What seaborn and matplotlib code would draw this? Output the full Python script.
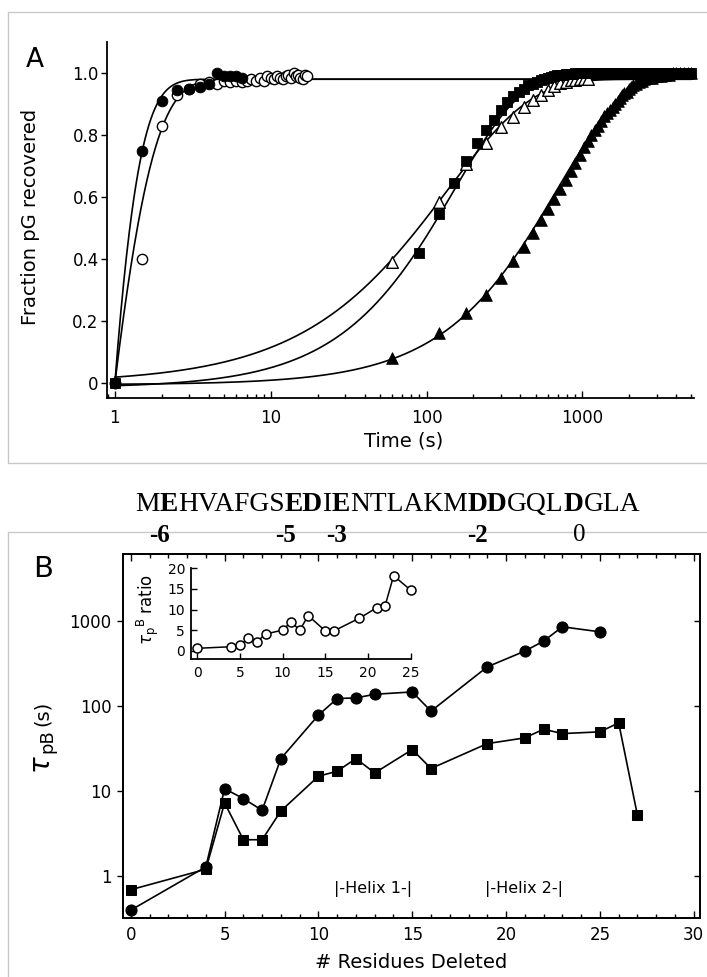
import numpy as np
import pandas as pd
import matplotlib
matplotlib.use("Agg")
import matplotlib.pyplot as plt
import seaborn as sns
from matplotlib.lines import Line2D
from matplotlib.ticker import (FixedLocator, FixedFormatter, NullLocator,
                               MultipleLocator, LogLocator, NullFormatter)

# ------------------------------------------------------------------ data
# Panel A : recovery kinetics (time in s, fraction pG recovered)
circ_fill_t = [1, 1.5, 2, 2.5, 3, 3.5, 4, 4.5, 5, 5.5, 6, 6.5]
circ_fill_y = [0, 0.75, 0.91, 0.945, 0.95, 0.955, 0.965, 1.0, 0.99, 0.99, 0.99, 0.985]

circ_open_t = [1, 1.5, 2, 2.5, 3, 3.5, 4, 4.5, 5, 5.5, 6, 6.5, 7, 7.5, 8, 8.5, 9,
               9.5, 10, 10.5, 11, 11.5, 12, 12.5, 13, 13.5, 14, 14.5, 15, 15.5,
               16, 16.5, 17]
circ_open_y = [0, 0.40, 0.83, 0.93, 0.95, 0.965, 0.97, 0.965, 0.975, 0.97, 0.975,
               0.97, 0.975, 0.98, 0.975, 0.985, 0.975, 0.99, 0.985, 0.98, 0.99,
               0.985, 0.98, 0.99, 0.995, 0.985, 1.0, 0.99, 0.995, 0.985, 0.98,
               0.995, 0.99]

sq_t = [1, 90, 120, 150, 180, 210, 240, 270, 300, 330, 360, 390, 420, 450, 480,
        510, 540, 570, 600, 630, 660, 690, 720, 750, 780, 810, 840, 870, 900, 930,
        960, 990, 1050, 1110, 1170, 1230, 1300, 1400, 1500, 1600, 1700, 1800,
        1950, 2100, 2250, 2400, 2600, 2800, 3000, 3200, 3400, 3600, 3800, 4000,
        4200, 4400, 4600, 4800, 5000]
sq_y = [0, 0.42, 0.545, 0.645, 0.715, 0.775, 0.815, 0.85, 0.88, 0.905, 0.925,
        0.94, 0.95, 0.96, 0.965, 0.972, 0.977, 0.982, 0.985, 0.988, 0.99, 0.992,
        0.994, 0.995, 0.996, 0.997, 0.998, 0.998, 0.999, 1.0, 1.0, 1.0, 1.0, 1.0,
        1.0, 1.0, 1.0, 1.0, 1.0, 1.0, 1.0, 1.0, 1.0, 1.0, 1.0, 1.0, 1.0, 1.0,
        1.0, 1.0, 1.0, 1.0, 1.0, 1.0, 1.0, 1.0, 1.0, 1.0, 1.0]

tri_open_t = [60, 120, 180, 240, 300, 360, 420, 480, 540, 600, 660, 720, 780,
              840, 900, 960, 1020, 1080]
tri_open_y = [0.39, 0.585, 0.705, 0.773, 0.827, 0.859, 0.891, 0.913, 0.929,
              0.945, 0.958, 0.967, 0.972, 0.976, 0.978, 0.98, 0.98, 0.98]

tri_fill_t = [60, 120, 180, 240, 300, 360, 420, 480, 540, 600, 660, 720, 780,
              840, 900, 960, 1020, 1080, 1140, 1200, 1260, 1320, 1380, 1440,
              1500, 1560, 1620, 1680, 1740, 1800, 1860, 1920, 1980, 2040, 2100,
              2200, 2300, 2400, 2500, 2650, 2800, 3000, 3200, 3400, 3600, 3800,
              4000, 4250, 4500, 4750, 5000]
tri_fill_y = [0.08, 0.16, 0.225, 0.285, 0.34, 0.395, 0.44, 0.485, 0.525, 0.56,
              0.595, 0.625, 0.655, 0.685, 0.71, 0.735, 0.76, 0.78, 0.80, 0.815,
              0.83, 0.845, 0.86, 0.87, 0.88, 0.89, 0.90, 0.91, 0.92, 0.93, 0.935,
              0.94, 0.948, 0.955, 0.96, 0.965, 0.97, 0.975, 0.98, 0.985, 0.985,
              0.99, 0.99, 0.995, 0.995, 1.0, 1.0, 1.0, 1.0, 1.0, 1.0]

# fitted-curve parameters: (amplitude, tau, stretch, t0, y0)
fit_circ_fill = (0.98, 0.345, 1.0, 1.0, 0.0)
fit_circ_open = (0.98, 0.55, 1.0, 1.0, 0.0)
fit_sq = (1.0, 152.0, 1.0, 0.0, -0.015)
fit_tri_open = (0.98, 135.0, 0.8, 0.0, 0.0)
fit_tri_fill = (1.0, 700.0, 1.0, 0.0, -0.005)

a_xticks = [1, 10, 100, 1000]
a_xticklabels = ["1", "10", "100", "1000"]
a_yticks = [0, 0.2, 0.4, 0.6, 0.8, 1.0]
a_yticklabels = ["0", "0.2", "0.4", "0.6", "0.8", "1.0"]

# Panel B : tau_pB versus residues deleted
res_circ = [0, 4, 5, 6, 7, 8, 10, 11, 12, 13, 15, 16, 19, 21, 22, 23, 25]
tau_circ = [0.40, 1.29, 10.7, 8.2, 5.97, 24.2, 78.4, 123, 125, 138, 147, 87.4,
            290, 444, 582, 857, 748]
res_sq = [0, 4, 5, 6, 7, 8, 10, 11, 12, 13, 15, 16, 19, 21, 22, 23, 25, 26, 27]
tau_sq = [0.695, 1.21, 7.28, 2.69, 2.69, 5.86, 15.0, 17.2, 24.2, 16.4, 30.9,
          18.5, 36.3, 42.4, 53.6, 47.6, 49.9, 63.6, 5.22]
b_yticks = [1, 10, 100, 1000]
b_yticklabels = ["1", "10", "100", "1000"]
b_xticks = [0, 5, 10, 15, 20, 25, 30]

# inset : tau_pB ratio
res_ratio = [0, 4, 5, 6, 7, 8, 10, 11, 12, 13, 15, 16, 19, 21, 22, 23, 25]
ratio = [0.58, 0.97, 1.38, 3.0, 2.2, 4.05, 5.0, 7.0, 5.0, 8.5, 4.8, 4.8, 7.9,
         10.4, 10.9, 18.2, 14.7]
ins_xticks = [0, 5, 10, 15, 20, 25]
ins_yticks = [0, 5, 10, 15, 20]

# sequence annotation
seq_segments = [("M", False), ("E", True), ("HVAFGS", False), ("ED", True),
                ("I", False), ("E", True), ("NTLAKM", False), ("DD", True),
                ("GQL", False), ("D", True), ("GLA", False)]
charge_labels = ["-6", "-5", "-3", "-2", "0"]
charge_bold = [True, True, True, True, False]
charge_xpix = [159, 286, 336.5, 477.7, 579.5]

# ------------------------------------------------------------------ style
sns.set_theme(style="ticks")
plt.rcParams["font.family"] = ["DejaVu Sans"]
plt.rcParams["mathtext.fontset"] = "dejavusans"
for k in ["text.color", "axes.labelcolor", "xtick.color", "ytick.color",
          "axes.edgecolor"]:
    plt.rcParams[k] = "black"

W, H = 707, 977
fig = plt.figure(figsize=(W / 100, H / 100), dpi=100)
fig.patch.set_facecolor("white")


def fx(px):
    return px / W


def fy(py):
    return 1 - py / H


frame_color = "#c8c8c8"
for (x0, y0, x1, y1) in [(8, 12, 707, 12), (8, 12, 8, 463), (8, 463, 707, 463),
                         (8, 532, 707, 532), (8, 532, 8, 977)]:
    fig.add_artist(Line2D([fx(x0), fx(x1)], [fy(y0), fy(y1)], color=frame_color,
                          lw=1.0, zorder=0))


def fit_curve(t, A, tau, beta, t0, y0):
    u = np.clip(t - t0, 0, None) / tau
    return y0 + (A - y0) * (1 - np.exp(-u ** beta))


# ------------------------------------------------------------------ panel A
axA = fig.add_axes([fx(107), fy(398), (694 - 107) / W, (398 - 42) / H])
axA.set_facecolor("white")
t_grid = np.logspace(0, np.log10(5000), 800)
for p in [fit_circ_fill, fit_circ_open, fit_sq, fit_tri_open, fit_tri_fill]:
    sns.lineplot(x=t_grid, y=fit_curve(t_grid, *p), color="black", lw=1.2,
                 ax=axA, zorder=2, sort=False)

kw = dict(ax=axA, zorder=4, clip_on=False, legend=False)
sns.scatterplot(x=tri_fill_t, y=tri_fill_y, marker="^", s=70, color="black",
                edgecolor="black", linewidth=0.6, **kw)
sns.scatterplot(x=tri_open_t, y=tri_open_y, marker="^", s=70, color="white",
                edgecolor="black", linewidth=1.0, **kw)
sns.scatterplot(x=sq_t, y=sq_y, marker="s", s=55, color="black",
                edgecolor="black", linewidth=0.6, **kw)
sns.scatterplot(x=circ_open_t, y=circ_open_y, marker="o", s=55, color="white",
                edgecolor="black", linewidth=1.0, **kw)
sns.scatterplot(x=circ_fill_t, y=circ_fill_y, marker="o", s=60, color="black",
                edgecolor="black", linewidth=0.6, **kw)

axA.set_xscale("log")
axA.set_xlim(0.89, 5200)
axA.set_ylim(-0.048, 1.1)
axA.xaxis.set_major_locator(FixedLocator(a_xticks))
axA.xaxis.set_major_formatter(FixedFormatter(a_xticklabels))
axA.xaxis.set_minor_locator(LogLocator(base=10, subs=np.arange(2, 10)))
axA.xaxis.set_minor_formatter(NullFormatter())
axA.yaxis.set_major_locator(FixedLocator(a_yticks))
axA.yaxis.set_major_formatter(FixedFormatter(a_yticklabels))
axA.yaxis.set_minor_locator(NullLocator())
sns.despine(ax=axA)
for s in ["left", "bottom"]:
    axA.spines[s].set_linewidth(1.3)
axA.tick_params(axis="x", which="major", direction="in", length=5, width=1.0,
                labelsize=12, pad=8)
axA.tick_params(axis="x", which="minor", direction="in", length=3, width=1.0)
axA.tick_params(axis="y", which="major", direction="out", length=4, width=1.0,
                labelsize=12, pad=2)
axA.set_xlabel("Time (s)", fontsize=14)
axA.set_ylabel("Fraction pG recovered", fontsize=14)
axA.xaxis.set_label_coords(0.506, -0.121)
axA.xaxis.label.set_va("center")
axA.yaxis.set_label_coords(-0.131, 0.508)
axA.yaxis.label.set_va("center")
fig.text(fx(35), fy(60), "A", fontsize=19, ha="center", va="center")

# ------------------------------------------------------------------ panel B
axB = fig.add_axes([fx(122.7), fy(917.7), (700.3 - 122.7) / W,
                    (917.7 - 554.3) / H])
axB.set_facecolor("white")
sns.lineplot(x=res_circ, y=tau_circ, marker="o", markersize=8, color="black",
             markeredgecolor="black", lw=1.2, ax=axB, clip_on=False)
sns.lineplot(x=res_sq, y=tau_sq, marker="s", markersize=7.5, color="black",
             markeredgecolor="black", lw=1.2, ax=axB, clip_on=False)
axB.set_yscale("log")
axB.set_xlim(-0.43, 30.35)
axB.set_ylim(0.326, 6100)
axB.xaxis.set_major_locator(FixedLocator(b_xticks))
axB.xaxis.set_minor_locator(MultipleLocator(1))
axB.yaxis.set_major_locator(FixedLocator(b_yticks))
axB.yaxis.set_major_formatter(FixedFormatter(b_yticklabels))
axB.yaxis.set_minor_locator(NullLocator())
for s in axB.spines.values():
    s.set_linewidth(1.3)
axB.tick_params(axis="x", which="both", direction="in", top=True, bottom=True)
axB.tick_params(axis="x", which="major", length=5, width=1.0, labelsize=12,
                pad=6)
axB.tick_params(axis="x", which="minor", length=3, width=1.0)
axB.tick_params(axis="y", which="major", direction="out", length=4.5, width=1.0,
                labelsize=12, pad=3.5)
axR = axB.twinx()
axR.set_yscale("log")
axR.set_ylim(axB.get_ylim())
axR.yaxis.set_major_locator(FixedLocator(b_yticks))
axR.yaxis.set_minor_locator(NullLocator())
axR.tick_params(axis="y", direction="in", length=4.5, width=1.0,
                labelright=False)
axR.grid(False)
axB.set_xlabel("# Residues Deleted", fontsize=14)
axB.set_ylabel("")
axB.xaxis.set_label_coords(0.499, -0.122)
axB.xaxis.label.set_va("center")
# y-label of panel B composed of three pieces: tau, pB, (s)
fig.text(fx(42), fy(765), r"$\tau$", fontsize=20, rotation=90,
         ha="center", va="center")
fig.text(fx(47.5), fy(741), "pB", fontsize=13, rotation=90,
         ha="center", va="center")
fig.text(fx(42), fy(713), "(s)", fontsize=14, rotation=90,
         ha="center", va="center")
axB.text(12.91, 0.715, "|-Helix 1-|", fontsize=11.5, ha="center",
         va="center")
axB.text(20.93, 0.715, "|-Helix 2-|", fontsize=11.5, ha="center",
         va="center")
fig.text(fx(43), fy(569), "B", fontsize=21, ha="center", va="center")

# ------------------------------------------------------------------ inset
axI = fig.add_axes([fx(190.7), fy(658.7), (410.7 - 190.7) / W,
                    (658.7 - 568.3) / H])
axI.patch.set_alpha(0)
sns.lineplot(x=res_ratio, y=ratio, marker="o", markersize=6.5,
             markerfacecolor="white", markeredgecolor="black",
             markeredgewidth=1.1, color="black", lw=1.1, ax=axI, clip_on=False)
axI.set_xlim(-0.77, 25)
axI.set_ylim(-1.94, 20)
axI.xaxis.set_major_locator(FixedLocator(ins_xticks))
axI.yaxis.set_major_locator(FixedLocator(ins_yticks))
sns.despine(ax=axI)
for s in ["left", "bottom"]:
    axI.spines[s].set_linewidth(1.3)
axI.tick_params(axis="both", direction="in", length=4, width=1.0,
                labelsize=10)
axI.tick_params(axis="x", pad=5)
axI.tick_params(axis="y", pad=4)
axI.set_ylabel(r"$\tau_{\mathregular{p}}{}^{\mathregular{B}}$ ratio",
               fontsize=12)
axI.yaxis.set_label_coords(-0.194, 0.55)
axI.yaxis.label.set_va("center")

# ------------------------------------------------------------------ sequence
serif = ["Liberation Serif", "DejaVu Serif"]
prev = None
for seg, bold in seq_segments:
    weight = "bold" if bold else "normal"
    if prev is None:
        prev = fig.text(fx(135), fy(511), seg, fontsize=19.8, family=serif,
                        fontweight=weight, ha="left", va="baseline")
    else:
        prev = axA.annotate(seg, xy=(1, 0), xycoords=prev, fontsize=19.8,
                            family=serif, fontweight=weight, ha="left",
                            va="bottom", annotation_clip=False)

for lab, bold, xp in zip(charge_labels, charge_bold, charge_xpix):
    fig.text(fx(xp), fy(535), lab, fontsize=18, family=serif,
             fontweight="bold" if bold else "normal", ha="center",
             va="center", zorder=5)

fig.savefig("out.png", dpi=100, facecolor="white")
